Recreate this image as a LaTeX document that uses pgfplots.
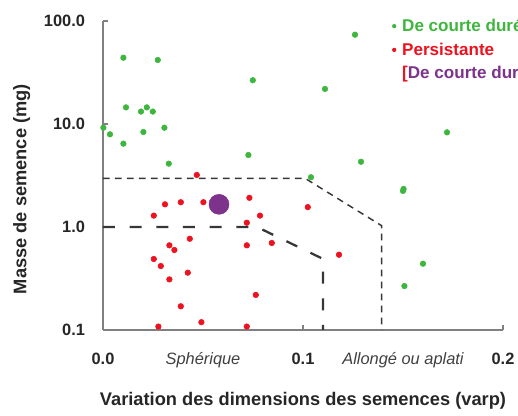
\documentclass[border=0pt]{standalone}
\usepackage{fontspec}
\setmainfont{Liberation Sans}
\usepackage{pgfplots}
\pgfplotsset{compat=1.18}
\definecolor{ptgreen}{RGB}{62,182,62}
\definecolor{ptred}{RGB}{236,18,32}
\definecolor{ptpurple}{RGB}{125,50,140}
\definecolor{axgray}{RGB}{128,128,128}
\definecolor{dashgray}{RGB}{55,55,55}
\begin{document}
\begin{tikzpicture}
\begin{axis}[
  at={(0,0)}, anchor=south west,
  scale only axis, width=300pt, height=231.75pt,
  xmin=0, xmax=0.2, ymin=0.1, ymax=100, ymode=log,
  axis lines*=left,
  axis line style={axgray, line width=0.9pt},
  tick style={axgray, line width=0.8pt},
  tick align=inside, major tick length=4pt,
  minor tick num=0, yminorticks=false,
  xtick={0,0.1,0.2}, xticklabels={0.0,0.1,0.2},
  ytick={0.1,1,10,100}, yticklabels={0.1,1.0,10.0,100.0},
  extra x ticks={0.05,0.15},
  extra x tick labels={Sphérique,Allongé ou aplati},
  extra x tick style={major tick length=0pt,
    xticklabel style={font=\fontsize{12.3}{14}\selectfont\itshape, text=black!75}},
  xticklabel style={font=\bfseries\fontsize{12.3}{14}\selectfont, text=black!85, anchor=base, yshift=-26pt},
  yticklabel style={font=\bfseries\fontsize{12.3}{14}\selectfont, text=black!85, xshift=-10pt},
  xlabel={Variation des dimensions des semences (varp)},
  ylabel={Masse de semence (mg)},
  label style={font=\bfseries\fontsize{13.7}{16}\selectfont, text=black!85},
  xlabel style={at={(axis description cs:0.5,0)}, anchor=base, yshift=-57pt},
  ylabel style={at={(axis description cs:-0.2033,0.456)}, anchor=center},
  clip=false,
  legend style={draw=none, fill=none, at={(axis description cs:0.712,1.025)}, anchor=north west,
    font=\bfseries\fontsize{12.8}{15}\selectfont, row sep=3pt},
  legend cell align=left,
]
% boundary lines
\addplot[forget plot, dashgray, line width=1.1pt, dash pattern=on 5pt off 4pt]
  coordinates {(0,2.97) (0.101,2.97) (0.1393,1.03) (0.1393,0.1)};
\addplot[forget plot, dashgray, line width=1.7pt, dash pattern=on 9pt off 11pt]
  coordinates {(0,1.0) (0.077,1.0) (0.110,0.49) (0.110,0.1)};
% De courte duree
\addplot[ptgreen, only marks, mark=*, mark size=2.1pt, mark options={draw=ptgreen, fill=ptgreen},
  legend image code/.code={\fill[ptgreen, draw=none] (0pt,0pt) circle (1.6pt); \path[draw=none] (-1pt,0pt) -- (4pt,0pt);}]
  coordinates {
  (0.0102,44.0) (0.0274,41.8) (0.0749,26.6) (0.0115,14.5) (0.0190,13.2)
  (0.0219,14.5) (0.0249,13.2) (0.0002,9.2) (0.0035,7.94) (0.0202,8.36)
  (0.0307,9.2) (0.0102,6.44) (0.0727,5.0) (0.0329,4.12) (0.1260,73.6)
  (0.1110,21.9) (0.1720,8.3) (0.1290,4.3) (0.1040,3.04) (0.1500,2.24)
  (0.1503,2.34) (0.1600,0.44) (0.1507,0.267)
  };
\addlegendentry{\textcolor{ptgreen}{De courte durée}}
% Persistante
\addplot[ptred, only marks, mark=*, mark size=2.1pt, mark options={draw=ptred, fill=ptred},
  legend image code/.code={\fill[ptred, draw=none] (0pt,0pt) circle (1.6pt); \path[draw=none] (-1pt,0pt) -- (4pt,0pt);}]
  coordinates {
  (0.0469,3.2) (0.0310,1.66) (0.0389,1.74) (0.0502,1.74) (0.0732,1.92)
  (0.0254,1.29) (0.0785,1.29) (0.0719,1.10) (0.0434,0.769) (0.0332,0.664)
  (0.0357,0.598) (0.0719,0.664) (0.0844,0.70) (0.0254,0.489) (0.0289,0.418)
  (0.0424,0.36) (0.0332,0.31) (0.0764,0.219) (0.0389,0.170) (0.0277,0.108)
  (0.0492,0.119) (0.0719,0.108) (0.1024,1.56) (0.1180,0.538)
  };
\addlegendentry{\textcolor{ptred}{Persistante}}
% mixed
\addplot[ptpurple, only marks, mark=*, mark size=7.5pt, mark options={draw=ptpurple, fill=ptpurple},
  legend image code/.code={\path[draw=none] (-1pt,0pt) -- (4pt,0pt);}]
  coordinates {(0.058,1.66)};
\addlegendentry{\textcolor{ptred}{[}\textcolor{ptpurple}{De courte durée, persistante]}}
\end{axis}
\pgfresetboundingbox
\useasboundingbox (-77.25pt,-64.5pt) rectangle (311.25pt,247.5pt);
\end{tikzpicture}
\end{document}
